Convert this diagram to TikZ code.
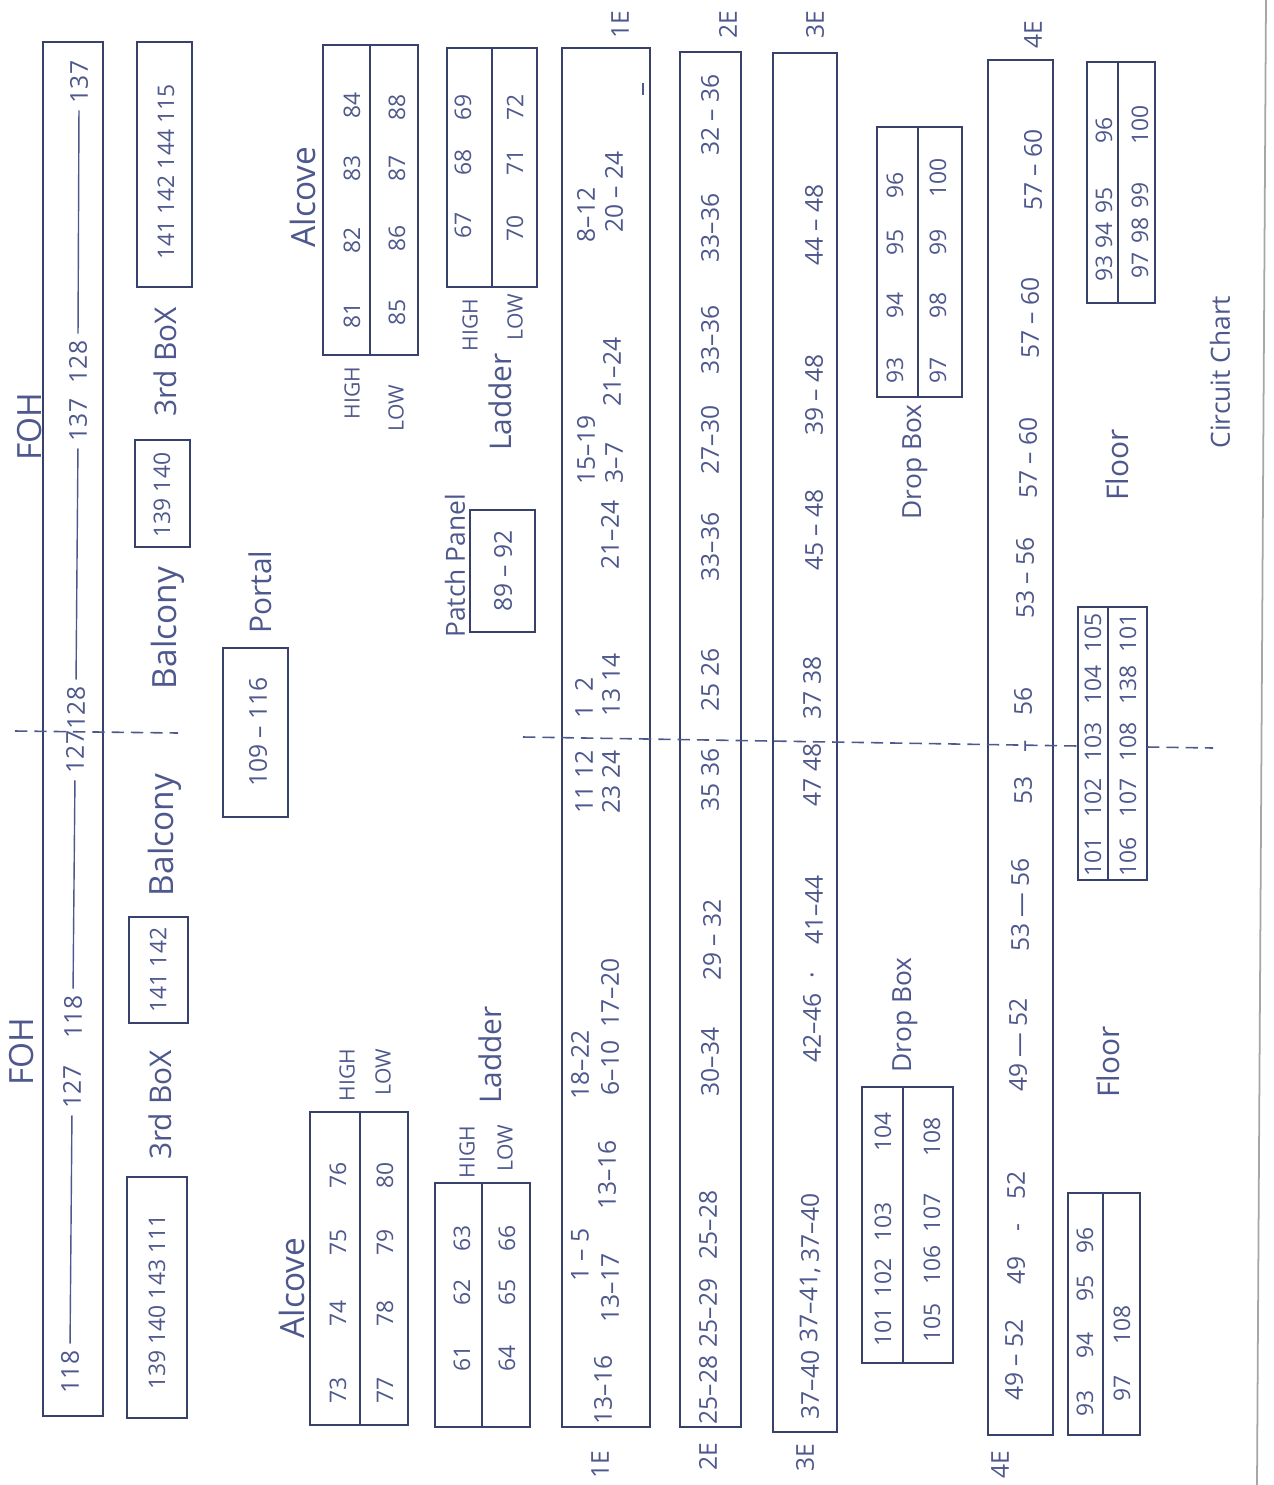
\documentclass[tikz,border=0pt]{standalone}
\usepackage{fontspec}
\setmainfont{Open Sans}
\definecolor{ink}{RGB}{78,88,140}
\definecolor{pen}{RGB}{56,64,108}
\newcommand\tnode[4][rng]{\node[#1] (#2) at (#3) {#4};}
\begin{document}
\begin{tikzpicture}[x=0.02cm,y=-0.02cm,
 box/.style={draw=pen,line width=1.6pt},
 divl/.style={draw=pen,line width=1.1pt},
 rng/.style={rotate=90,text=ink,inner sep=1pt,font=\fontsize{14}{16}\selectfont},
 gnum/.style={rng,font=\fontsize{13}{15}\selectfont},
 sml/.style={rng,font=\fontsize{12}{14}\selectfont},
 midl/.style={rng,font=\fontsize{15}{17}\selectfont},
 lbl/.style={rng,font=\fontsize{17}{19}\selectfont},
 big/.style={rng,font=\fontsize{19}{21}\selectfont},
 conn/.style={draw=ink,line width=0.8pt,shorten >=3pt,shorten <=3pt},
 cline/.style={draw=ink,line width=0.9pt,dash pattern=on 7pt off 4pt}]
\fill[white] (0,0) rectangle (1274,1485);
\useasboundingbox (0,0) rectangle (1274,1485);

% ---------- FOH bar ----------
\draw[box] (43,42) rectangle (103,1416);
\tnode{fa}{79,82}{137}
\tnode{fb}{78,362}{128}
\tnode{fc}{78,420}{137}
\tnode{fd}{76,708}{128}
\tnode{fe}{75,752}{127}
\tnode{ff}{73,1017}{118}
\tnode{fg}{72,1087}{127}
\tnode{fh}{70,1372}{118}
\draw[conn] (fa.west) -- (fb.east);
\draw[conn] (fc.west) -- (fd.east);
\draw[conn] (fe.west) -- (ff.east);
\draw[conn] (fg.west) -- (fh.east);
\tnode[big]{foha}{30,427}{FOH}
\tnode[big]{fohb}{22,1052}{FOH}

% ---------- balcony column ----------
\draw[box] (137,42) rectangle (192,287);
\tnode[gnum]{ba}{166,172}{141 142 144 115}
\tnode[lbl]{bb}{165,362}{3rd BoX}
\draw[box] (135,440) rectangle (190,547);
\tnode[gnum]{bc}{162,495}{139 140}
\tnode[big]{bd}{168,628}{Balcony}
\tnode[big]{be}{165,835}{Balcony}
\draw[box] (129,917) rectangle (188,1023);
\tnode[gnum]{bf}{158,970}{141 142}
\tnode[lbl]{bg}{160,1105}{3rd BoX}
\draw[box] (127,1177) rectangle (187,1418);
\tnode[gnum]{bh}{157,1302}{139 140 143 111}

% ---------- portal ----------
\tnode[lbl]{pa}{260,592}{Portal}
\draw[box] (223,648) rectangle (288,817);
\tnode{pb}{258,732}{109 -- 116}

% ---------- upper alcove ----------
\tnode[big]{aa}{303,197}{Alcove}
\draw[box] (323,45) rectangle (418,355);
\draw[divl] (370,45) -- (370,355);
\tnode[gnum]{ua1}{352,315}{81}
\tnode[gnum]{ua2}{352,240}{82}
\tnode[gnum]{ua3}{352,168}{83}
\tnode[gnum]{ua4}{352,105}{84}
\tnode[gnum]{ua5}{397,312}{85}
\tnode[gnum]{ua6}{397,238}{86}
\tnode[gnum]{ua7}{397,168}{87}
\tnode[gnum]{ua8}{397,107}{88}
\tnode[sml]{ah}{352,393}{HIGH}
\tnode[sml]{al}{396,408}{LOW}

% ---------- upper ladder ----------
\draw[box] (447,48) rectangle (537,287);
\draw[divl] (492,48) -- (492,287);
\tnode[gnum]{ul1}{463,225}{67}
\tnode[gnum]{ul2}{463,162}{68}
\tnode[gnum]{ul3}{463,107}{69}
\tnode[gnum]{ul4}{515,228}{70}
\tnode[gnum]{ul5}{515,162}{71}
\tnode[gnum]{ul6}{515,107}{72}
\tnode[sml]{lh}{470,325}{HIGH}
\tnode[sml]{ll}{515,317}{LOW}
\tnode[lbl]{ld}{500,402}{Ladder}

% ---------- patch panel ----------
\tnode[midl]{pp}{455,566}{Patch Panel}
\draw[box] (470,510) rectangle (535,632);
\tnode{pq}{503,571}{89 -- 92}

% ---------- lower alcove ----------
\tnode[big]{ab}{292,1288}{Alcove}
\draw[box] (310,1112) rectangle (408,1425);
\draw[divl] (360,1112) -- (360,1425);
\tnode[gnum]{la1}{338,1390}{73}
\tnode[gnum]{la2}{338,1313}{74}
\tnode[gnum]{la3}{338,1242}{75}
\tnode[gnum]{la4}{338,1175}{76}
\tnode[gnum]{la5}{385,1390}{77}
\tnode[gnum]{la6}{385,1313}{78}
\tnode[gnum]{la7}{385,1242}{79}
\tnode[gnum]{la8}{385,1175}{80}
\tnode[sml]{ai}{347,1075}{HIGH}
\tnode[sml]{am}{383,1072}{LOW}

% ---------- lower ladder ----------
\draw[box] (435,1183) rectangle (530,1427);
\draw[divl] (482,1183) -- (482,1427);
\tnode[gnum]{ll1}{462,1358}{61}
\tnode[gnum]{ll2}{462,1292}{62}
\tnode[gnum]{ll3}{462,1238}{63}
\tnode[gnum]{ll4}{507,1358}{64}
\tnode[gnum]{ll5}{507,1292}{65}
\tnode[gnum]{ll6}{507,1238}{66}
\tnode[sml]{li}{467,1152}{HIGH}
\tnode[sml]{lm}{505,1148}{LOW}
\tnode[lbl]{le}{490,1055}{Ladder}

% ---------- electric bars ----------
\draw[box] (562,48) rectangle (650,1427);
\draw[box] (680,52) rectangle (741,1427);
\draw[box] (773,53) rectangle (837,1432);
\draw[box] (988,60) rectangle (1053,1435);
\tnode{eta}{620,25}{1E}
\tnode{etb}{728,25}{2E}
\tnode{etc}{815,25}{3E}
\tnode{etd}{1033,35}{4E}
\tnode{eba}{600,1465}{1E}
\tnode{ebb}{708,1457}{2E}
\tnode{ebc}{805,1458}{3E}
\tnode{ebd}{1000,1465}{4E}

% 1E
\draw[draw=ink,line width=0.9pt] (643,83) -- (643,95);
\tnode{ea1}{586,215}{8--12}
\tnode{ea2}{614,192}{20 -- 24}
\tnode{ea3}{612,372}{21--24}
\tnode{ea4}{586,450}{15--19}
\tnode{ea5}{614,463}{3--7}
\tnode{ea6}{610,535}{21--24}
\tnode{ea7}{584,698}{1\enspace 2}
\tnode{ea8}{611,685}{13 14}
\tnode{ea9}{584,782}{11 12}
\tnode{ea10}{611,782}{23 24}
\tnode{ea11}{610,993}{17--20}
\tnode{ea12}{580,1065}{18--22}
\tnode{ea13}{610,1068}{6--10}
\tnode{ea14}{607,1175}{13--16}
\tnode{ea15}{580,1255}{1 -- 5}
\tnode{ea16}{610,1288}{13--17}
\tnode{ea17}{603,1390}{13--16}

% 2E
\tnode{eb1}{710,115}{32 -- 36}
\tnode{eb2}{710,228}{33--36}
\tnode{eb3}{710,340}{33--36}
\tnode{eb4}{710,440}{27--30}
\tnode{eb5}{710,547}{33--36}
\tnode{eb6}{710,680}{25 26}
\tnode{eb7}{710,780}{35 36}
\tnode{eb8}{712,940}{29 -- 32}
\tnode{eb9}{710,1062}{30--34}
\tnode{eb10}{708,1225}{25--28}
\tnode{eb11}{708,1313}{25--29}
\tnode{eb12}{708,1390}{25--28}

% 3E
\tnode{ec1}{814,225}{44 -- 48}
\tnode{ec2}{814,395}{39 -- 48}
\tnode{ec3}{814,530}{45 -- 48}
\tnode{ec4}{812,688}{37 38}
\tnode{ec5}{812,775}{47 48}
\tnode{ec6}{814,910}{41--44}
\tnode{ec7}{812,975}{.}
\tnode{ec8}{812,1028}{42--46}
\tnode{ec9}{810,1228}{37--40}
\tnode{ec10}{810,1305}{37--41,}
\tnode{ec11}{810,1385}{37--40}

% 4E
\tnode{ed1}{1033,170}{57 -- 60}
\tnode{ed2}{1030,318}{57 -- 60}
\tnode{ed3}{1028,458}{57 -- 60}
\tnode{ed4}{1025,578}{53 -- 56}
\tnode{ed5}{1023,746}{53\quad --\quad 56}
\tnode{ed6}{1020,905}{53 --- 56}
\tnode{ed7}{1018,1045}{49 --- 52}
\tnode{ed8}{1016,1228}{49\quad -\quad 52}
\tnode{ed9}{1014,1360}{49 -- 52}

% ---------- drop boxes ----------
\draw[box] (877,127) rectangle (962,397);
\draw[divl] (918,127) -- (918,397);
\tnode[gnum]{da1}{895,370}{93}
\tnode[gnum]{da2}{895,305}{94}
\tnode[gnum]{da3}{895,242}{95}
\tnode[gnum]{da4}{895,185}{96}
\tnode[gnum]{da5}{938,370}{97}
\tnode[gnum]{da6}{938,305}{98}
\tnode[gnum]{da7}{938,242}{99}
\tnode[gnum]{da8}{938,178}{100}
\tnode[midl]{dla}{915,462}{Drop Box}

\draw[box] (862,1087) rectangle (953,1363);
\draw[divl] (903,1087) -- (903,1363);
\tnode[gnum]{db1}{883,1327}{101}
\tnode[gnum]{db2}{883,1278}{102}
\tnode[gnum]{db3}{883,1222}{103}
\tnode[gnum]{db4}{883,1132}{104}
\tnode[gnum]{db5}{932,1323}{105}
\tnode[gnum]{db6}{932,1265}{106}
\tnode[gnum]{db7}{932,1213}{107}
\tnode[gnum]{db8}{932,1137}{108}
\tnode[midl]{dlb}{905,1015}{Drop Box}

% ---------- floor boxes ----------
\draw[box] (1087,62) rectangle (1155,303);
\draw[divl] (1118,62) -- (1118,303);
\tnode[gnum]{fx1}{1104,268}{93}
\tnode[gnum]{fx2}{1104,235}{94}
\tnode[gnum]{fx3}{1104,200}{95}
\tnode[gnum]{fx4}{1104,130}{96}
\tnode[gnum]{fx5}{1140,265}{97}
\tnode[gnum]{fx6}{1140,230}{98}
\tnode[gnum]{fx7}{1140,195}{99}
\tnode[gnum]{fx8}{1140,125}{100}
\tnode[lbl]{fla}{1117,465}{Floor}

\draw[box] (1078,607) rectangle (1147,880);
\draw[divl] (1108,607) -- (1108,880);
\tnode[gnum]{fy1}{1093,857}{101}
\tnode[gnum]{fy2}{1093,798}{102}
\tnode[gnum]{fy3}{1093,742}{103}
\tnode[gnum]{fy4}{1093,685}{104}
\tnode[gnum]{fy5}{1093,633}{105}
\tnode[gnum]{fy6}{1128,857}{106}
\tnode[gnum]{fy7}{1128,798}{107}
\tnode[gnum]{fy8}{1128,742}{108}
\tnode[gnum]{fy9}{1128,685}{138}
\tnode[gnum]{fy10}{1128,633}{101}

\draw[box] (1068,1193) rectangle (1140,1435);
\draw[divl] (1103,1193) -- (1103,1435);
\tnode[gnum]{fz1}{1085,1403}{93}
\tnode[gnum]{fz2}{1085,1345}{94}
\tnode[gnum]{fz3}{1085,1288}{95}
\tnode[gnum]{fz4}{1085,1240}{96}
\tnode[gnum]{fz5}{1122,1388}{97}
\tnode[gnum]{fz6}{1122,1325}{108}
\tnode[lbl]{flb}{1108,1062}{Floor}

\tnode[midl]{cc}{1220,372}{Circuit Chart}

% ---------- centre line ----------
\coordinate (dA) at (15,731);
\coordinate (dB) at (178,733);
\coordinate (dC) at (523,737);
\coordinate (dD) at (1078,746);
\coordinate (dE) at (1147,747);
\coordinate (dF) at (1213,748);
\draw[cline] (dA) -- (dB);
\draw[cline] (dC) -- (dD);
\draw[cline] (dE) -- (dF);

% page edge
\draw[draw=black!35,line width=1pt] (1266,0) -- (1257,1485);
\end{tikzpicture}
\end{document}
